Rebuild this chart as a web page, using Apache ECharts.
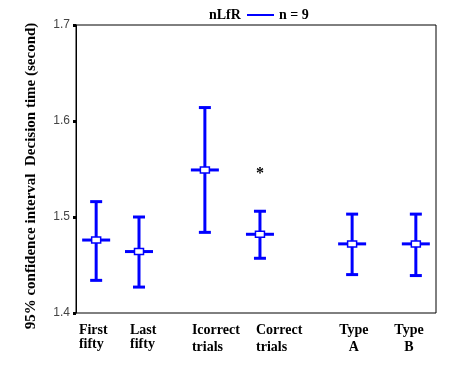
<!DOCTYPE html>
<html>
<head>
<meta charset="utf-8">
<script src="https://cdn.jsdelivr.net/npm/echarts@6/dist/echarts.min.js"></script>
<style>html,body{margin:0;padding:0;background:#fff;}#c{width:464px;height:367px;}</style>
</head>
<body>
<div id="c"></div>
<script>
// ---- data ----
const categories = ['First\nfifty', 'Last\nfifty', 'Icorrect\ntrials', 'Correct\ntrials', 'Type\nA', 'Type\nB'];
const means = [1.476, 1.464, 1.549, 1.482, 1.472, 1.472];
const upper = [1.516, 1.500, 1.614, 1.506, 1.503, 1.503];
const lower = [1.434, 1.427, 1.484, 1.457, 1.440, 1.439];
const starMark = ['', '', '', '*', '', ''];
const starValue = 1.5475;
const yTicks = [1.4, 1.5, 1.6, 1.7];
const seriesName = 'n = 9';
const groupName = 'nLfR';

// ---- layout (positions along hidden x axis, 0..10) ----
const slotX = [0.56, 1.75, 3.58, 5.11, 7.67, 9.44];
const labelX = [0.08, 1.5, 3.22, 5.0, 7.72, 9.25];
const labelAlign = ['left', 'left', 'left', 'left', 'center', 'center'];
const labelGap = [14, 14, 17, 17, 17, 17];

const BLUE = '#0000ff';
const serif = '"Liberation Serif", "Times New Roman", serif';

const chart = echarts.init(document.getElementById('c'));
const barData = categories.map((c, i) => [slotX[i], means[i], upper[i], lower[i]]);
const labelData = categories.map((c, i) => [labelX[i], yTicks[0], i]);
const starData = starMark.map((s, i) => [slotX[i], starValue, s]).filter(d => d[2]);

chart.setOption({
  animation: false,
  title: {
    text: groupName, left: 204, top: 3,
    textStyle: { fontFamily: serif, fontWeight: 'bold', fontSize: 14, color: '#000' }
  },
  legend: {
    left: 242, top: 3, itemWidth: 27, itemHeight: 14, itemGap: 4,
    icon: 'path://M0,12 L27,12 L27,14 L0,14 Z',
    data: [seriesName],
    textStyle: { fontFamily: serif, fontWeight: 'bold', fontSize: 14, color: '#000', padding: [0, 0, 0, 0] }
  },
  grid: { left: 76, right: 28, top: 25, bottom: 54, show: true, borderColor: '#000', borderWidth: 1, backgroundColor: '#fff' },
  xAxis: {
    type: 'value', min: 0, max: 10, show: false
  },
  yAxis: {
    type: 'value', min: yTicks[0], max: yTicks[yTicks.length - 1], interval: 0.1,
    name: '95% confidence interval  Decision time (second)',
    nameLocation: 'middle', nameGap: 37, nameRotate: 90,
    nameTextStyle: { fontFamily: serif, fontWeight: 'bold', fontSize: 15, color: '#000', padding: [0, 14, 0, 0] },
    axisLine: { show: true, lineStyle: { color: '#000', width: 1 } },
    axisTick: { show: true, length: 3, lineStyle: { color: '#000', width: 3 } },
    axisLabel: { fontFamily: 'Liberation Sans, Arial, sans-serif', fontSize: 12, color: '#444', margin: 6,
      formatter: v => v.toFixed(1) },
    splitLine: { show: false }
  },
  series: [
    {
      name: seriesName, type: 'custom', itemStyle: { color: BLUE },
      data: barData,
      renderItem: function (params, api) {
        const x = api.value(0);
        const m = api.coord([x, api.value(1)]);
        const hi = api.coord([x, api.value(2)]);
        const lo = api.coord([x, api.value(3)]);
        const st = { stroke: BLUE, lineWidth: 3, fill: null };
        const cap = 6, half = 14;
        return {
          type: 'group',
          children: [
            { type: 'line', shape: { x1: m[0], y1: hi[1], x2: m[0], y2: lo[1] }, style: st },
            { type: 'line', shape: { x1: m[0] - cap, y1: hi[1], x2: m[0] + cap, y2: hi[1] }, style: st },
            { type: 'line', shape: { x1: m[0] - cap, y1: lo[1], x2: m[0] + cap, y2: lo[1] }, style: st },
            { type: 'line', shape: { x1: m[0] - half, y1: m[1], x2: m[0] + half, y2: m[1] }, style: st },
            { type: 'rect', shape: { x: m[0] - 4.5, y: m[1] - 3, width: 9, height: 6 },
              style: { fill: '#fff', stroke: BLUE, lineWidth: 1.5 } }
          ]
        };
      }
    },
    {
      type: 'custom', silent: true, clip: false,
      data: starData,
      renderItem: function (params, api) {
        const p = api.coord([api.value(0), api.value(1)]);
        return { type: 'text', x: p[0], y: p[1] + 2,
          style: { text: starData[params.dataIndex][2], fill: '#000', font: 'bold 16px ' + serif,
            textAlign: 'center', textVerticalAlign: 'middle' } };
      }
    },
    {
      type: 'custom', silent: true, clip: false,
      data: labelData,
      renderItem: function (params, api) {
        const i = api.value(2);
        const p = api.coord([api.value(0), api.value(1)]);
        const lines = categories[i].split('\n');
        return {
          type: 'group',
          children: lines.map((t, k) => ({
            type: 'text', x: p[0], y: p[1] + 17 + k * labelGap[i],
            style: { text: t, fill: '#000', font: 'bold 14px ' + serif,
              textAlign: labelAlign[i], textVerticalAlign: 'middle' }
          }))
        };
      }
    }
  ]
});
</script>
</body>
</html>
